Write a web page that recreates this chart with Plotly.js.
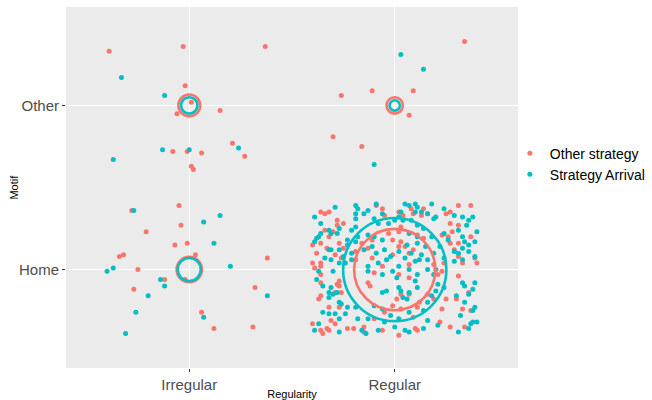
<!DOCTYPE html>
<html>
<head>
<meta charset="utf-8">
<script src="https://cdn.plot.ly/plotly-3.0.1.min.js"></script>
<style>html,body{margin:0;padding:0;background:#fff;}#chart{width:652px;height:400px;}</style>
</head>
<body>
<div id="chart"></div>
<script>
// Categories
const regularityLabels = ["Irregular", "Regular"];   // x positions 1, 2
const motifLabels = ["Home", "Other"];                // y positions 1, 2
const groupNames = ["Other strategy", "Strategy Arrival"];

// Jittered observations, "Other strategy"
const otherX = [
  0.61,0.97,1.37,0.98,1.01,0.94,1.15,1.21,1.27,0.92,0.99,1.06,1.01,1.02,
  0.95,0.72,0.96,0.79,0.93,0.99,1.03,0.66,0.68,0.75,1.38,0.73,1.32,0.98,0.88,1.06,1.12,1.31,
  2.34,1.74,1.89,2.09,2.07,1.70,1.84,
  1.64,1.66,1.68,1.72,1.75,1.72,1.68,1.70,1.66,1.60,1.64,1.67,1.73,1.75,1.62,1.71,1.74,1.60,1.64,1.64,1.61,1.81,1.84,1.81,
  1.91,1.94,2.02,2.09,2.13,2.14,2.08,2.04,1.95,2.03,2.02,1.97,1.89,1.87,1.99,2.03,2.07,2.09,2.14,2.11,2.02,2.05,1.99,1.94,2.07,1.89,
  2.16,2.31,2.37,2.27,2.25,2.27,2.31,2.28,2.23,2.26,2.37,2.27,2.31,2.39,2.29,2.31,2.24,2.40,2.33,2.19,
  1.64,1.64,1.73,1.72,1.73,1.74,1.63,1.64,1.71,1.68,1.73,1.69,1.71,1.64,1.67,1.68,1.65,1.77,1.80,1.85,1.85,1.60,
  1.87,1.88,1.90,2.02,2.07,2.03,2.07,2.01,1.99,1.95,2.03,2.11,2.12,1.90,1.94,2.02,2.10,2.11,2.09,
  2.21,2.23,2.31,2.36,2.30,2.25,2.23,2.33,2.37,2.19,2.16,2.22,2.27,2.34
];
const otherY = [
  2.33,2.36,2.36,2.12,2.02,1.95,1.97,1.77,1.69,1.72,1.72,1.71,1.63,1.61,
  1.39,1.36,1.27,1.23,1.15,1.16,1.09,1.08,1.09,1.00,1.07,0.88,0.89,0.94,0.94,0.74,0.64,0.65,
  2.39,2.06,2.09,2.09,1.94,1.81,1.75,
  1.35,1.34,1.35,1.30,1.28,1.27,1.20,1.23,1.24,1.15,1.16,1.13,1.16,1.13,1.10,1.09,1.07,1.04,1.04,1.02,1.01,1.06,1.16,1.11,
  1.39,1.37,1.35,1.34,1.33,1.37,1.37,1.33,1.33,1.26,1.23,1.22,1.18,1.13,1.18,1.17,1.10,1.12,1.19,1.21,1.14,1.14,1.09,1.02,1.03,1.07,
  1.34,1.39,1.39,1.35,1.34,1.28,1.27,1.23,1.21,1.20,1.20,1.16,1.16,1.07,1.12,1.08,1.04,1.04,1.04,1.03,
  0.97,0.92,0.93,0.91,0.90,0.86,0.82,0.84,0.86,0.77,0.77,0.69,0.67,0.63,0.64,0.63,0.61,0.64,0.64,0.65,0.62,0.67,
  0.92,0.90,0.98,0.97,0.95,0.85,0.85,0.82,0.78,0.74,0.76,0.77,0.80,0.70,0.63,0.60,0.64,0.63,0.71,
  0.97,0.99,0.96,0.86,0.82,0.82,0.76,0.76,0.75,0.82,0.85,0.68,0.65,0.65
];

// Jittered observations, "Strategy Arrival"
const arrivalX = [
  0.67,0.88,0.87,1.00,1.24,0.63,0.73,1.07,1.15,1.12,1.20,0.60,0.63,0.86,0.88,0.80,0.74,0.69,1.07,1.38,
  2.03,2.14,1.90,
  1.71,1.81,1.82,1.81,1.85,1.61,1.64,1.81,1.73,1.81,1.68,1.64,1.63,1.62,1.61,1.69,1.72,1.79,1.77,1.68,1.69,1.73,1.66,1.69,1.73,1.75,1.77,1.81,1.82,1.79,1.85,1.76,1.79,
  1.87,1.91,2.05,2.07,2.10,2.11,2.13,2.10,2.03,2.02,1.94,1.90,1.92,1.97,2.00,2.04,2.08,2.11,2.14,1.87,1.90,1.94,1.89,1.95,1.98,1.96,2.02,2.05,2.08,2.10,2.12,2.13,2.15,2.11,2.11,2.07,2.06,1.91,1.92,2.02,1.87,
  2.18,2.16,2.19,2.20,2.24,2.29,2.33,2.36,2.38,2.35,2.31,2.33,2.40,2.18,2.24,2.26,2.34,2.36,2.33,2.39,2.22,2.29,2.31,2.36,2.24,2.33,2.39,2.19,2.16,2.29,
  1.63,1.70,1.62,1.65,1.69,1.68,1.70,1.72,1.68,1.73,1.74,1.77,1.65,1.68,1.71,1.76,1.73,1.82,1.63,1.61,1.73,1.84,1.81,
  1.87,1.94,1.99,2.01,2.07,2.11,2.10,2.11,2.07,2.02,2.03,2.04,2.06,1.96,1.94,1.90,1.94,1.98,2.02,2.07,2.14,1.87,1.95,2.00,2.05,2.07,2.14,1.86,1.92,
  2.16,2.20,2.19,2.21,2.24,2.20,2.18,2.16,2.30,2.33,2.34,2.39,2.38,2.36,2.34,2.38,2.32,2.16,2.21,2.31,2.37,2.38,2.40,2.36,2.39
];
const arrivalY = [
  2.17,2.06,1.73,1.73,1.74,1.67,1.36,1.29,1.33,1.16,1.02,0.99,1.01,0.94,0.90,0.84,0.74,0.61,0.71,0.84,
  2.31,2.22,1.64,
  1.38,1.39,1.37,1.34,1.34,1.32,1.28,1.31,1.25,1.26,1.24,1.22,1.20,1.19,1.17,1.22,1.22,1.24,1.18,1.12,1.12,1.12,1.07,1.06,1.04,1.08,1.15,1.17,1.20,1.10,1.12,1.04,1.06,
  1.36,1.40,1.40,1.39,1.40,1.38,1.35,1.35,1.35,1.32,1.34,1.31,1.28,1.28,1.30,1.30,1.30,1.27,1.25,1.21,1.20,1.18,1.14,1.12,1.08,1.06,1.11,1.07,1.10,1.05,1.06,1.09,1.14,1.16,1.20,1.22,1.15,1.10,1.04,1.02,1.02,
  1.40,1.34,1.31,1.32,1.37,1.33,1.32,1.30,1.32,1.27,1.24,1.20,1.23,1.20,1.22,1.18,1.17,1.15,1.13,1.17,1.14,1.11,1.10,1.11,1.07,1.06,1.08,1.10,1.06,1.05,
  0.99,0.99,0.94,0.90,0.89,0.86,0.85,0.86,0.83,0.80,0.79,0.77,0.74,0.73,0.73,0.73,0.70,0.70,0.67,0.63,0.62,0.63,0.77,
  0.99,0.97,0.99,0.95,1.00,0.97,0.93,0.89,0.86,0.89,0.87,0.83,0.82,0.87,0.86,0.78,0.76,0.72,0.70,0.74,0.75,0.70,0.68,0.65,0.63,0.62,0.64,0.61,0.63,
  1.00,1.00,0.97,0.91,0.89,0.87,0.84,0.80,0.84,0.92,0.90,0.92,0.88,0.85,0.80,0.75,0.72,0.69,0.66,0.62,0.67,0.68,0.68,0.64,0.77
];

// Counts per cell (Irregular/Other, Irregular/Home, Regular/Other, Regular/Home)
const cellX = [1, 1, 2, 2];
const cellY = [2, 1, 2, 1];
const otherCount = [9, 12, 5, 124];
const arrivalCount = [5, 10, 2, 200];

const RED = "#F8766D", TEAL = "#00BFC4";
const ringScale = 7.3;
const ringSize = c => c.map(n => ringScale * Math.sqrt(n));

const traces = [
  {type:"scatter", mode:"markers", x: otherX, y: otherY, name: groupNames[0], legendgroup:"o",
   marker:{color: RED, size: 5, opacity: 1}, hoverinfo:"skip"},
  {type:"scatter", mode:"markers", x: arrivalX, y: arrivalY, name: groupNames[1], legendgroup:"a",
   marker:{color: TEAL, size: 5, opacity: 1}, hoverinfo:"skip"},
  {type:"scatter", mode:"markers", x: cellX, y: cellY, name: groupNames[0], legendgroup:"o", showlegend:false,
   marker:{symbol:"circle-open", color: RED, opacity: 1, size: ringSize(otherCount), line:{width:2.6, color: RED}}},
  {type:"scatter", mode:"markers", x: cellX, y: cellY, name: groupNames[1], legendgroup:"a", showlegend:false,
   marker:{symbol:"circle-open", color: TEAL, opacity: 1, size: ringSize(arrivalCount), line:{width:2.6, color: TEAL}}}
];

const font = "Liberation Sans, Arial, sans-serif";
const layout = {
  width: 652, height: 400,
  margin: {l: 66, r: 134, t: 7, b: 32, autoexpand: false},
  paper_bgcolor: "#FFFFFF",
  plot_bgcolor: "#EBEBEB",
  font: {family: font, color: "#000"},
  showlegend: true,
  legend: {x: 0.982, xanchor: "left", y: 0.565, yanchor: "middle", bgcolor: "rgba(0,0,0,0)",
           font: {family: font, size: 14, color: "#000"}, tracegroupgap: 0, itemwidth: 30},
  xaxis: {range: [0.4, 2.6], tickvals: [1, 2], ticktext: regularityLabels, showgrid: true, gridcolor: "#FFFFFF",
          gridwidth: 1.1, zeroline: false, ticks: "outside", ticklen: 3, tickcolor: "#333333", tickwidth: 1,
          tickfont: {family: font, size: 15, color: "#4D4D4D"}, showline: false, fixedrange: true,
          title: {text: "Regularity", font: {family: font, size: 11, color: "#000"}, standoff: 4}},
  yaxis: {range: [0.4, 2.6], tickvals: [1, 2], ticktext: motifLabels, showgrid: true, gridcolor: "#FFFFFF",
          gridwidth: 1.1, zeroline: false, ticks: "outside", ticklen: 3, tickcolor: "#333333", tickwidth: 1,
          tickfont: {family: font, size: 15, color: "#4D4D4D"}, showline: false, fixedrange: true},
  annotations: [
    {text: "Motif", xref: "paper", yref: "paper", x: -0.117, y: 0.5, xanchor: "center", yanchor: "middle",
     textangle: -90, showarrow: false, font: {family: font, size: 11, color: "#000"}}
  ]
};

Plotly.newPlot("chart", traces, layout, {displayModeBar: false, staticPlot: true});
</script>
</body>
</html>
